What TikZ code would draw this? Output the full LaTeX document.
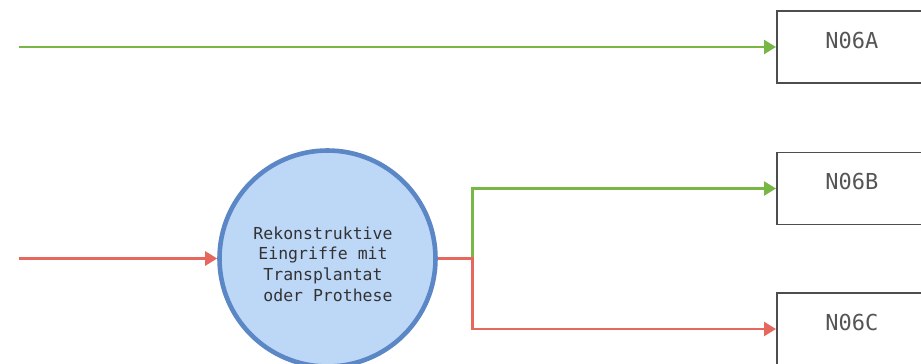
\documentclass[tikz,border=0pt]{standalone}
\usepackage{fontspec}
\setmonofont{DejaVu Sans Mono}
\usetikzlibrary{arrows.meta}
\definecolor{lgreen}{HTML}{78B646}
\definecolor{lred}{HTML}{E5675E}
\definecolor{cfill}{HTML}{BDD7F7}
\definecolor{cline}{HTML}{5C87C6}
\definecolor{bline}{HTML}{4D4D4D}
\definecolor{btext}{HTML}{555555}
\definecolor{ctext}{HTML}{333333}
\begin{document}
\begin{tikzpicture}[x=1pt, y=-1pt,
    box/.style={draw=bline, line width=1.8pt, rectangle, anchor=west,
        minimum width=150pt, inner ysep=0pt, text height=37pt, text depth=35pt,
        font=\ttfamily\fontsize{22}{26}\selectfont, text=btext},
    circ/.style={draw=cline, line width=4.6pt, fill=cfill, circle,
        minimum size=216pt, inner sep=0pt},
    circtext/.style={align=center, text=ctext,
        font=\ttfamily\fontsize{16.5}{20.7}\selectfont},
    line/.style={line width=2.4pt, -{Triangle[length=12pt,width=14pt]}}]
            \clip (0,0) rectangle (921,364);

            \node[box] (NA) at (776, 47) {N06A};
            \node[box] (NB) at (776, 188.5) {N06B};
            \node[box] (NC) at (776, 329) {N06C};

            \node[circ] (RE) at (327.5, 258.5) {};
            \node[circtext] (RT) at (323, 264) {Rekonstruktive\\Eingriffe mit\\Transplantat\\\hphantom{o}oder Prothese};

            \coordinate (SA) at (19, 47);
            \coordinate (SR) at (19, 258.5);
            \coordinate (J) at (472.5, 258.5);

            \draw[line, lgreen] (SA) -- (NA.west);
            \draw[line, lred] (SR) -- (RE.west);
            \draw[line, lgreen] (RE.east) -- (J) |- (NB.west);
            \draw[line, lred] (RE.east) -- (J) |- (NC.west);
\end{tikzpicture}
\end{document}
